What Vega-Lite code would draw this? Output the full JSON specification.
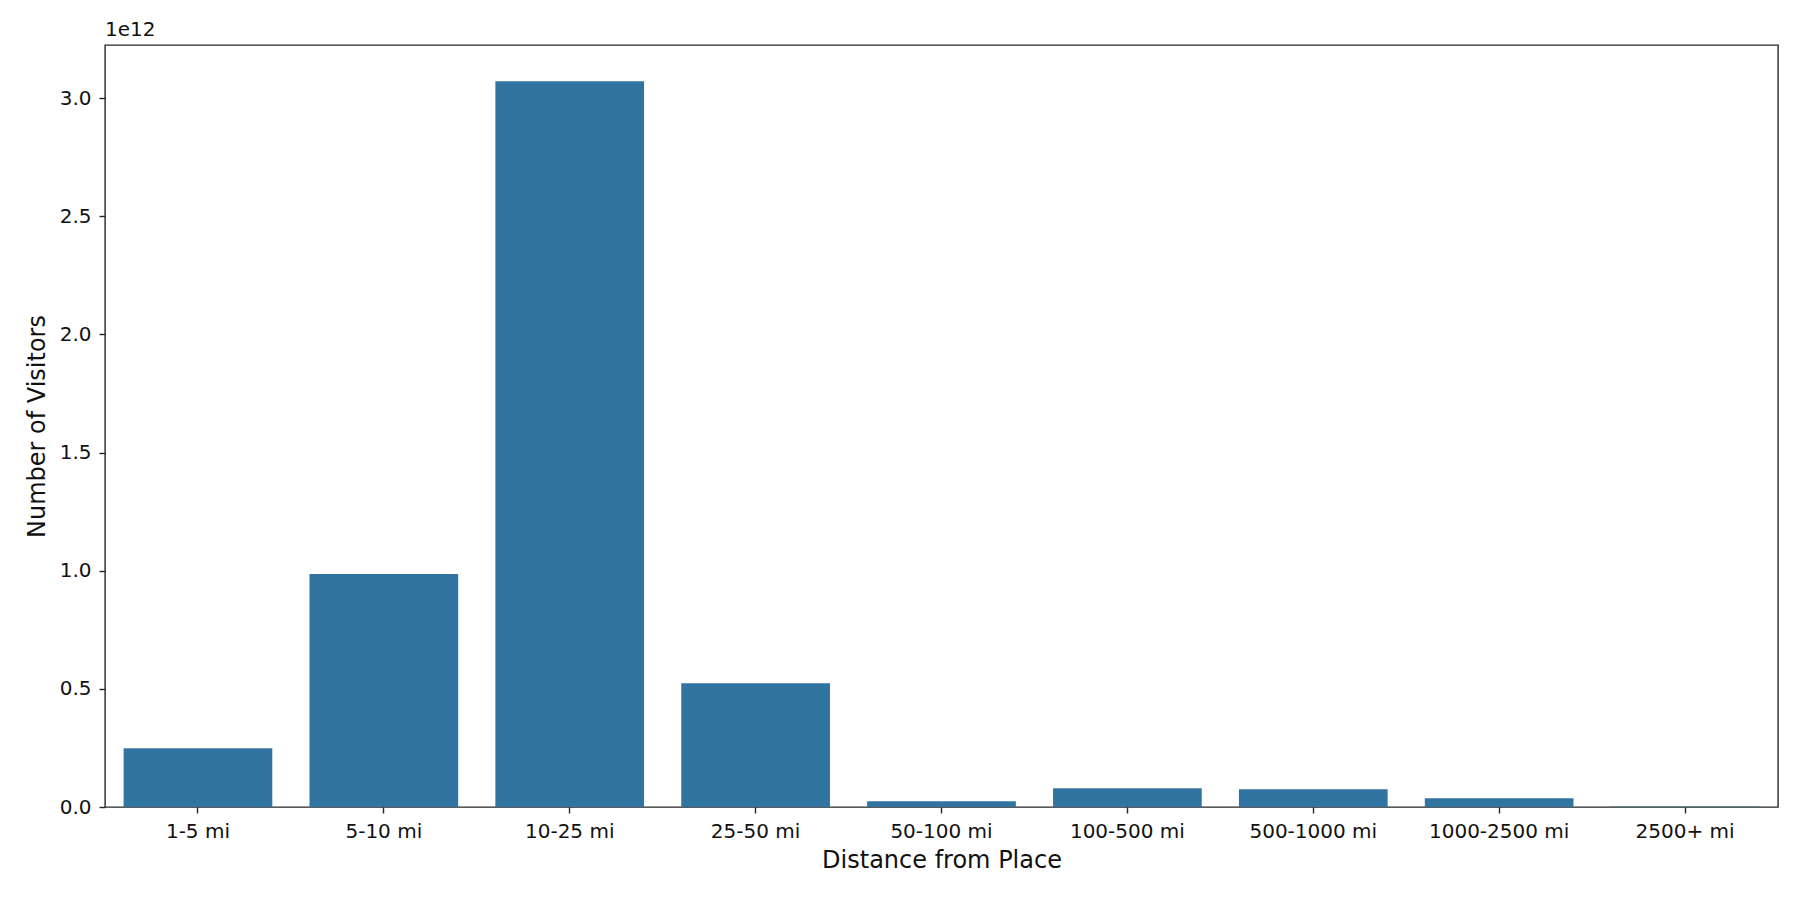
{
  "$schema": "https://vega.github.io/schema/vega-lite/v6.json",
  "autosize": {"type": "none"},
  "width": 1673,
  "height": 762,
  "padding": {"left": 105, "top": 45, "right": 22, "bottom": 93},
  "background": "white",
  "title": {
    "text": "1e12",
    "anchor": "start",
    "frame": "group",
    "font": "DejaVu Sans",
    "fontSize": 20,
    "fontWeight": "normal",
    "color": "#111111",
    "baseline": "alphabetic",
    "offset": -11
  },
  "config": {
    "view": {"stroke": "#262626", "strokeWidth": 1.4},
    "axis": {
      "labelFont": "DejaVu Sans",
      "titleFont": "DejaVu Sans",
      "labelFontSize": 20,
      "titleFontSize": 24,
      "titleFontWeight": "normal",
      "labelColor": "#111111",
      "titleColor": "#111111",
      "tickColor": "#262626",
      "tickWidth": 1.4,
      "tickSize": 6,
      "domain": false,
      "grid": false
    }
  },
  "data": {
    "values": [
      {"distance": "1-5 mi", "visitors": 249000000000},
      {"distance": "5-10 mi", "visitors": 986000000000},
      {"distance": "10-25 mi", "visitors": 3071000000000},
      {"distance": "25-50 mi", "visitors": 524000000000},
      {"distance": "50-100 mi", "visitors": 24000000000},
      {"distance": "100-500 mi", "visitors": 79000000000},
      {"distance": "500-1000 mi", "visitors": 75000000000},
      {"distance": "1000-2500 mi", "visitors": 37000000000},
      {"distance": "2500+ mi", "visitors": 2000000000}
    ]
  },
  "mark": {"type": "bar", "color": "#3274a1"},
  "encoding": {
    "x": {
      "field": "distance",
      "type": "nominal",
      "sort": null,
      "scale": {"paddingInner": 0.2, "paddingOuter": 0.1},
      "axis": {
        "title": "Distance from Place",
        "labelAngle": 0,
        "labelPadding": 8,
        "titlePadding": 7
      }
    },
    "y": {
      "field": "visitors",
      "type": "quantitative",
      "scale": {"domain": [0, 3224600000000], "nice": false, "zero": true},
      "axis": {
        "title": "Number of Visitors",
        "values": [0, 500000000000, 1000000000000, 1500000000000, 2000000000000, 2500000000000, 3000000000000],
        "labelExpr": "format(datum.value / 1e12, '.1f')",
        "labelPadding": 8,
        "titlePadding": 10
      }
    }
  }
}
